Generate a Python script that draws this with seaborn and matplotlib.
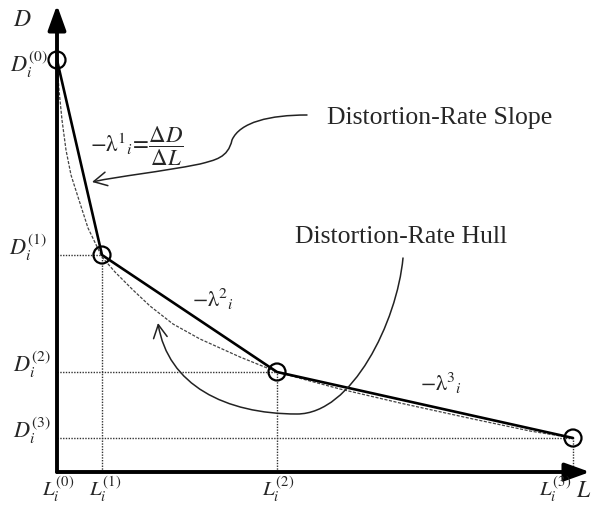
import matplotlib
matplotlib.use('Agg')
import matplotlib.pyplot as plt
import seaborn as sns
import pandas as pd
from matplotlib.path import Path
from matplotlib.patches import FancyArrowPatch

# operating points on the convex hull: rate L and distortion D
rate = [0.0, 0.9, 4.4, 10.32]
distortion = [8.24, 4.34, 2.0, 0.68]
d_labels = [r'$D_i^{(0)}$', r'$D_i^{(1)}$', r'$D_i^{(2)}$', r'$D_i^{(3)}$']
l_labels = [r'$L_i^{(0)}$', r'$L_i^{(1)}$', r'$L_i^{(2)}$', r'$L_i^{(3)}$']

# underlying operational distortion-rate curve (dashed)
curve_rate = [0.0, 0.04, 0.10, 0.18, 0.28, 0.42, 0.62, 0.90, 1.16, 1.52, 1.86,
              2.32, 2.86, 3.66, 4.40, 5.06, 5.66, 6.86, 8.32, 9.46, 10.32]
curve_dist = [8.24, 7.64, 7.04, 6.44, 5.94, 5.50, 4.88, 4.30, 4.00, 3.64, 3.32,
              2.96, 2.66, 2.30, 2.00, 1.82, 1.66, 1.38, 1.06, 0.82, 0.68]

slope_labels = [r'$-\mathrm{λ}^{2}{}_{i}$', r'$-\mathrm{λ}^{3}{}_{i}$']

sns.set_style('white')
plt.rcParams['font.family'] = ['Liberation Serif', 'DejaVu Serif']
plt.rcParams['mathtext.fontset'] = 'stix'

hull = pd.DataFrame({'L': rate, 'D': distortion})
curve = pd.DataFrame({'L': curve_rate, 'D': curve_dist})

fig = plt.figure(figsize=(5.98, 5.05), dpi=100)
ax = fig.add_axes([57 / 598, 33 / 505, 533 / 598, 467 / 505])
ax.set_xlim(0, 10.66)
ax.set_ylim(0, 9.34)
for s in ax.spines.values():
    s.set_visible(False)
ax.set_xticks([])
ax.set_yticks([])

# dotted guide lines
for L, D in zip(rate[1:], distortion[1:]):
    ax.plot([0, L], [D, D], ls=(0, (1, 1)), lw=1.0, color='#333333', zorder=1)
    ax.plot([L, L], [0, D], ls=(0, (1, 1)), lw=1.0, color='#333333', zorder=1)

# operational curve and hull
sns.lineplot(data=curve, x='L', y='D', ax=ax, color='#444444', lw=0.9,
             linestyle=(0, (2.5, 1.2)), estimator=None, zorder=2)
sns.lineplot(data=hull, x='L', y='D', ax=ax, color='black', lw=1.9,
             estimator=None, zorder=3)
sns.scatterplot(data=hull, x='L', y='D', ax=ax, s=150, facecolor='none',
                edgecolor='black', linewidth=1.6, zorder=4, clip_on=False)
ax.set_xlabel('')
ax.set_ylabel('')

# axes with arrow heads
for end in [(1, 0), (0, 1)]:
    ax.annotate('', xy=end, xytext=(0, 0), xycoords='axes fraction',
                arrowprops=dict(arrowstyle='-|>,head_length=0.75,head_width=0.27',
                                mutation_scale=20, lw=2.8, color='black',
                                shrinkA=0, shrinkB=0))

ax.text(-0.7, 8.92, r'$D$', fontsize=17, ha='center', va='baseline')
ax.annotate(r'$L$', xy=(1, 0), xycoords='axes fraction', xytext=(-10, -18),
            textcoords='offset points', fontsize=17, ha='left', va='baseline')

# tick-like labels for the operating points
d_off = [-9, 0, 0, 0]
d_dx = [-6, -7, -4, -4]
for D, lab, off, dx in zip(distortion, d_labels, d_off, d_dx):
    ax.annotate(lab, xy=(0, D), xytext=(dx, off), textcoords='offset points',
                fontsize=16, ha='right', va='baseline')
l_ha = ['center', 'center', 'center', 'right']
l_dx = [1, 2, 1, -1]
for L, lab, ha, dx in zip(rate, l_labels, l_ha, l_dx):
    ax.annotate(lab, xy=(L, 0), xytext=(dx, -18), textcoords='offset points',
                fontsize=15, ha=ha, va='baseline')

# slope annotations
ax.text(0.66, 6.40, r'$-\mathrm{λ}^{1}{}_{i}\!=\!\dfrac{\Delta D}{\Delta L}$',
        fontsize=16.5, ha='left', va='baseline')
ax.text(2.7, 3.3, slope_labels[0], fontsize=16, ha='left', va='baseline')
ax.text(7.26, 1.62, slope_labels[1], fontsize=16, ha='left', va='baseline')

ax.text(5.4, 6.96, 'Distortion-Rate Slope', fontsize=18.5, ha='left', va='baseline')
ax.text(4.76, 4.58, 'Distortion-Rate Hull', fontsize=18.5, ha='left', va='baseline')

# curved pointer arrows
C4 = Path.CURVE4
slope_path = Path([(5.0, 7.14), (4.26, 7.14), (3.66, 7.0), (3.5, 6.64),
                   (3.42, 6.28), (3.16, 6.24), (2.86, 6.16),
                   (2.06, 6.0), (1.26, 5.92), (0.7, 5.8)],
                  [Path.MOVETO, C4, C4, C4, C4, C4, C4, C4, C4, C4])
hull_path = Path([(6.92, 4.28), (6.80, 3.00), (5.90, 1.16), (4.80, 1.16),
                  (3.36, 1.16), (2.22, 1.74), (2.02, 2.98)],
                 [Path.MOVETO, C4, C4, C4, C4, C4, C4])
for p in [slope_path, hull_path]:
    ax.add_patch(FancyArrowPatch(path=p, arrowstyle='->,head_length=0.63,head_width=0.33',
                                 mutation_scale=15, lw=1.1, color='#222222', zorder=5))

fig.savefig('out.png', dpi=100)
